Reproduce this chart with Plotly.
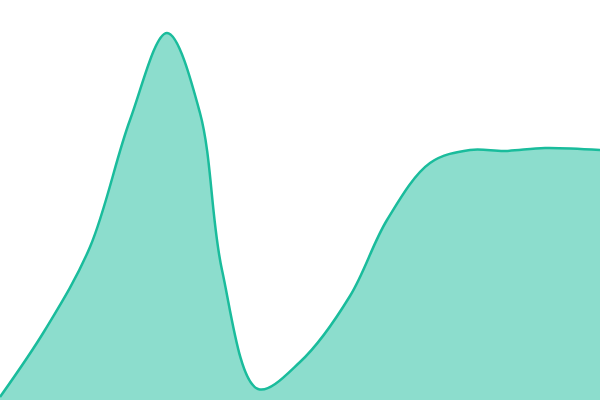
import plotly.graph_objects as go

# positions along the x axis and the values
days = [0, 45, 90, 130, 167, 200, 222, 258, 300, 350, 387, 430, 470, 505, 545, 600]
values = [3, 70, 153, 280, 367, 287, 130, 11, 38, 104, 180, 237, 250, 249, 252, 250]

fig = go.Figure()
fig.add_trace(go.Scatter(x=days, y=values, mode="lines",
                         line=dict(color="#1abc9c", width=2.5, shape="spline"),
                         fill="tozeroy", fillcolor="rgba(26,188,156,0.5)"))
fig.update_layout(width=600, height=400, margin=dict(l=0, r=0, t=0, b=0),
                  paper_bgcolor="white", plot_bgcolor="white", showlegend=False)
fig.update_xaxes(visible=False, range=[0, 600])
fig.update_yaxes(visible=False, range=[0, 400])
fig.write_html("out.html", config={"displayModeBar": False},
               post_script="document.body.style.margin='0';")
